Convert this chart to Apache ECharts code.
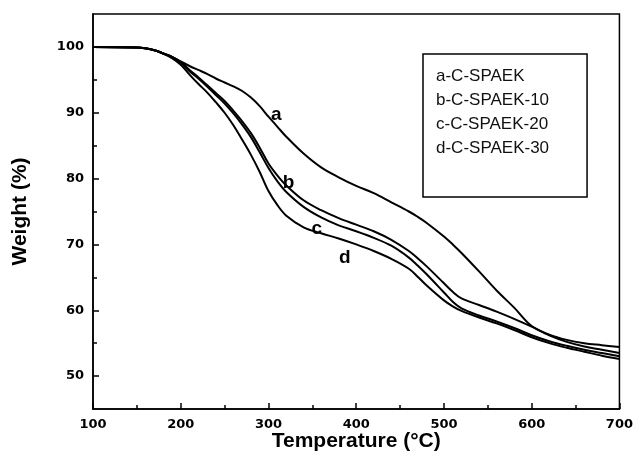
<!DOCTYPE html>
<html><head><meta charset="utf-8">
<script src="https://cdn.jsdelivr.net/npm/echarts@6/dist/echarts.min.js"></script>
<style>html,body{margin:0;padding:0;background:#fff}#c{width:636px;height:468px}</style>
</head><body><div id="c"></div>
<script>
const temps = [100,150,170,180,190,200,210,220,230,240,250,260,270,280,290,300,310,320,340,360,380,400,420,440,460,470,480,500,510,520,540,560,580,600,620,640,660,680,700];
const seriesA = [100,99.9,99.5,99.0,98.5,97.8,97.1,96.5,95.9,95.2,94.6,94.0,93.3,92.3,91.0,89.4,87.9,86.4,83.8,81.7,80.2,78.9,77.8,76.4,75.0,74.2,73.3,71.2,70.0,68.7,65.9,63.0,60.4,57.6,56.3,55.5,55.0,54.7,54.4];
const seriesB = [100,99.9,99.5,99.0,98.5,97.7,96.5,95.4,94.2,93.0,91.8,90.3,88.7,86.9,84.7,82.3,80.5,79.0,76.7,75.2,74.0,73.0,72.0,70.7,69.0,67.9,66.7,64.1,62.8,61.8,60.8,59.8,58.7,57.5,56.2,55.2,54.5,54.0,53.5];
const seriesC = [100,99.9,99.5,99.0,98.5,97.6,96.3,95.2,94.0,92.7,91.4,89.9,88.2,86.3,84.0,81.6,79.6,78.0,75.7,74.1,72.9,72.0,71.0,69.8,68.0,66.8,65.5,62.7,61.3,60.3,59.2,58.3,57.3,56.2,55.3,54.6,54.0,53.5,53.0];
const seriesD = [100,99.9,99.5,99.0,98.3,97.3,95.8,94.4,93.1,91.6,90.0,88.1,85.9,83.6,81.0,78.1,76.0,74.4,72.6,71.7,70.9,70.0,69.0,67.8,66.3,65.1,63.8,61.5,60.6,59.9,58.9,58.0,57.0,55.9,55.0,54.3,53.7,53.1,52.6];
const seriesNames = ['a-C-SPAEK','b-C-SPAEK-10','c-C-SPAEK-20','d-C-SPAEK-30'];
const curveLetters = ['a','b','c','d'];
const letterPos = [[309,89.7],[323,79.4],[355,72.4],[387,67.9]];
const yMajorTicks = [50,60,70,80,90,100];
const yMinorTicks = [55,65,75,85,95];

const chart = echarts.init(document.getElementById('c'));
const all = [seriesA, seriesB, seriesC, seriesD];
const lineSeries = all.map((vals, i) => ({
  name: seriesNames[i], type: 'line', xAxisIndex: 0, yAxisIndex: 0,
  data: temps.map((t, k) => [t, vals[k]]),
  showSymbol: false, smooth: 0.35,
  lineStyle: {color: '#000', width: 2}, itemStyle: {color: '#000'}
}));
const labelSeries = {
  type: 'scatter', xAxisIndex: 0, yAxisIndex: 0, symbolSize: 0, silent: true,
  itemStyle: {opacity: 1, color: '#000'},
  data: letterPos.map((p, i) => ({value: p, name: curveLetters[i]})),
  label: {show: true, position: 'inside', formatter: p => p.name, color: '#000', opacity: 1,
          fontFamily: 'Liberation Sans', fontWeight: 'bold', fontSize: 19}
};
const tickFont = {fontFamily: 'DejaVu Sans', fontWeight: 'bold', fontSize: 13, color: '#000'};
chart.setOption({
  animation: false,
  backgroundColor: '#fff',
  grid: {left: 93, right: 12, top: 14, bottom: 59, show: true, borderColor: '#000', borderWidth: 1.5, backgroundColor: 'transparent'},
  legend: {
    data: seriesNames, orient: 'vertical', left: 423, top: 54,
    icon: 'none', itemWidth: 0, itemHeight: 0, itemGap: 7,
    padding: [14, 38, 40, 8],
    borderColor: '#000', borderWidth: 1.5, backgroundColor: '#fff',
    textStyle: {fontFamily: 'Liberation Sans', fontSize: 17, color: '#111'}
  },
  xAxis: [{
    type: 'value', min: 100, max: 700, interval: 100,
    name: 'Temperature (\u00B0C)', nameLocation: 'middle', nameGap: 22, nameMoveOverlap: false,
    nameTextStyle: {fontFamily: 'Liberation Sans', fontWeight: 'bold', fontSize: 21, color: '#000'},
    axisLine: {lineStyle: {color: '#000', width: 1.5}},
    axisTick: {inside: true, length: 6, lineStyle: {color: '#000', width: 1.5}},
    minorTick: {show: true, splitNumber: 2, length: 4, lineStyle: {color: '#000', width: 1.5}},
    axisLabel: Object.assign({margin: 9}, tickFont),
    splitLine: {show: false}
  }],
  yAxis: [{
    type: 'value', min: 45, max: 105,
    name: 'Weight (%)', nameLocation: 'middle', nameGap: 62, nameMoveOverlap: false,
    nameTextStyle: {fontFamily: 'Liberation Sans', fontWeight: 'bold', fontSize: 21, color: '#000'},
    axisLine: {lineStyle: {color: '#000', width: 1.5}},
    axisTick: {inside: true, length: 6, customValues: yMajorTicks, lineStyle: {color: '#000', width: 1.5}},
    axisLabel: Object.assign({margin: 9, customValues: yMajorTicks}, tickFont),
    splitLine: {show: false}
  }, {
    type: 'value', min: 45, max: 105, position: 'left',
    axisLine: {show: false},
    axisTick: {show: true, inside: true, length: 4, customValues: yMinorTicks, lineStyle: {color: '#000', width: 1.5}},
    axisLabel: {show: false},
    splitLine: {show: false}
  }],
  series: lineSeries.concat([labelSeries])
});
</script>
</body></html>
